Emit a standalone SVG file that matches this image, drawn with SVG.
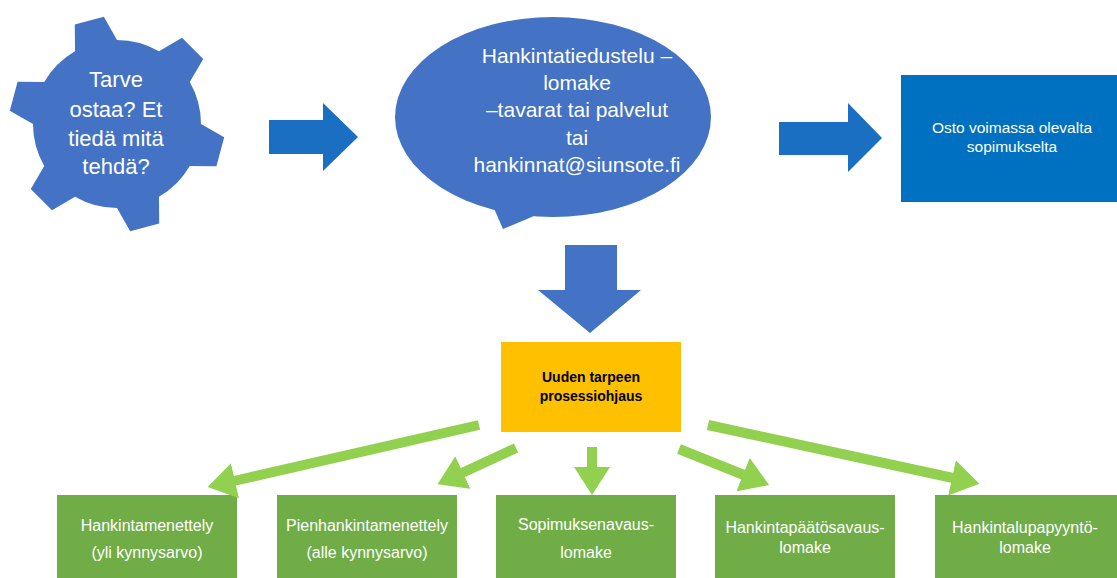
<svg xmlns="http://www.w3.org/2000/svg" width="1117" height="578" viewBox="0 0 1117 578">
<style>
.blue{fill:#4472C4}
.barrow{fill:#1A6FC3}
.gbox{fill:#70AD47}
.wt{fill:#FFFFFF;font-family:"Liberation Sans",Arial,sans-serif;text-anchor:middle}
.bt{fill:#000000;font-family:"Liberation Sans",Arial,sans-serif;font-weight:bold;text-anchor:middle;font-size:14px}
.gline{stroke:#92D050;stroke-width:10;fill:none;marker-end:url(#gh)}
</style>
<defs>
<marker id="gh" viewBox="0 0 28 36" refX="1" refY="18" markerWidth="2.8" markerHeight="3.6" orient="auto" markerUnits="strokeWidth">
<path d="M0,0 L28,18 L0,36 Z" fill="#92D050"/>
</marker>
</defs>
<rect width="1117" height="578" fill="#FFFFFF"/>

<g id="gear">
<path class="blue" d="M75,51.25 L74.80,24.59 L103.84,16.81 L117,40 A84,84 0 0 1 159,51.25 L182,37.75 L203.25,59 L189.75,82 A84,84 0 0 1 201,124 L224.19,137.16 L216.41,166.20 L189.75,166 A84,84 0 0 1 159,196.75 L159.20,223.41 L130.16,231.19 L117,208 A84,84 0 0 1 75,196.75 L52,210.25 L30.75,189 L44.25,166 A84,84 0 0 1 33,124 L9.81,110.84 L17.59,81.80 L44.25,82 A84,84 0 0 1 75,51.25 Z"/>
<text class="wt" font-size="22" x="116" y="87">Tarve</text>
<text class="wt" font-size="22" x="116" y="117">ostaa? Et</text>
<text class="wt" font-size="22" x="116" y="146">tiedä mitä</text>
<text class="wt" font-size="22" x="116" y="174">tehdä?</text>
</g>

<g id="bubble">
<path class="blue" d="M486,190 L503,229 L560,205 Z"/>
<ellipse class="blue" cx="553" cy="117" rx="158" ry="100"/>
<text class="wt" font-size="21" x="577" y="63">Hankintatiedustelu –</text>
<text class="wt" font-size="21" x="577" y="90">lomake</text>
<text class="wt" font-size="21" x="577" y="117">–tavarat tai palvelut</text>
<text class="wt" font-size="21" x="577" y="145">tai</text>
<text class="wt" font-size="21" x="577" y="172">hankinnat@siunsote.fi</text>
</g>

<g id="contract">
<rect x="901" y="75" width="216" height="127" fill="#0070C0"/>
<text class="wt" font-size="15.5" x="1012" y="133">Osto voimassa olevalta</text>
<text class="wt" font-size="15.5" x="1012" y="152">sopimukselta</text>
</g>

<g id="steering">
<rect x="501" y="342" width="180" height="90" fill="#FFC000"/>
<text class="bt" x="591" y="382">Uuden tarpeen</text>
<text class="bt" x="591" y="401">prosessiohjaus</text>
</g>

<g id="box1">
<rect class="gbox" x="57" y="495" width="180" height="83"/>
<text class="wt" font-size="16" x="147" y="531">Hankintamenettely</text>
<text class="wt" font-size="16" x="147" y="558">(yli kynnysarvo)</text>
</g>
<g id="box2">
<rect class="gbox" x="277" y="495" width="180" height="83"/>
<text class="wt" font-size="16" x="367" y="531">Pienhankintamenettely</text>
<text class="wt" font-size="16" x="367" y="558">(alle kynnysarvo)</text>
</g>
<g id="box3">
<rect class="gbox" x="496" y="495" width="180" height="83"/>
<text class="wt" font-size="16" x="586" y="530">Sopimuksenavaus-</text>
<text class="wt" font-size="16" x="586" y="558">lomake</text>
</g>
<g id="box4">
<rect class="gbox" x="715" y="495" width="180" height="83"/>
<text class="wt" font-size="16" x="805" y="533">Hankintapäätösavaus-</text>
<text class="wt" font-size="16" x="805" y="553">lomake</text>
</g>
<g id="box5">
<rect class="gbox" x="935" y="495" width="182" height="83"/>
<text class="wt" font-size="16" x="1025" y="533">Hankintalupapyyntö-</text>
<text class="wt" font-size="16" x="1025" y="553">lomake</text>
</g>

<g id="connectors">
<polygon class="barrow" points="269,120 323,120 323,103 358,137 323,171 323,154 269,154"/>
<polygon class="barrow" points="779,122 848,122 848,103 882,138 848,172 848,155 779,155"/>
<polygon class="blue" points="565,245 617,245 617,290 641,290 590,333 538,290 565,290"/>
<line class="gline" x1="479" y1="425" x2="234" y2="481"/>
<line class="gline" x1="516" y1="448" x2="462" y2="473"/>
<line class="gline" x1="592" y1="447" x2="592" y2="468"/>
<line class="gline" x1="679" y1="449" x2="744" y2="475"/>
<line class="gline" x1="708" y1="425" x2="953" y2="478"/>
</g>
</svg>
